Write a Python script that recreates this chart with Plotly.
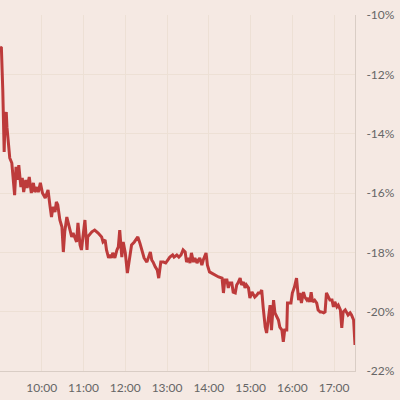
import pandas as pd
import plotly.graph_objects as go

# minutes after 09:00
minutes = [
    0, 2, 4, 6, 7, 9, 10, 12, 14, 17,
    19, 21, 23, 25, 27, 30, 32, 34, 37, 39,
    42, 45, 48, 50, 53, 55, 58, 61, 65, 69,
    72, 74, 76, 79, 81, 83, 86, 89, 91, 93,
    96, 98, 101, 103, 105, 108, 110, 112, 115, 117,
    120, 122, 125, 126, 132, 136, 141, 146, 148, 151,
    153, 156, 158, 160, 162, 165, 168, 170, 172, 175,
    177, 180, 183, 186, 189, 193, 198, 201, 204, 207,
    211, 213, 216, 218, 220, 223, 226, 228, 231, 235,
    238, 241, 244, 248, 250, 254, 257, 260, 263, 266,
    268, 271, 273, 275, 278, 280, 283, 285, 287, 290,
    292, 296, 298, 301, 304, 309, 314, 319, 321, 323,
    326, 328, 330, 333, 335, 338, 340, 342, 345, 347,
    350, 352, 354, 357, 359, 362, 364, 366, 369, 371,
    374, 376, 378, 381, 383, 386, 388, 390, 393, 395,
    398, 400, 402, 405, 407, 409, 412, 413, 416, 418,
    420, 423, 426, 429, 431, 433, 436, 438, 441, 443,
    445, 447, 449, 452, 455, 457, 460, 462, 465, 467,
    469, 472, 474, 477, 479, 481, 484, 486, 489, 491,
    493, 496, 498, 500, 503, 505, 508, 510,
]

# change, percent
values = [
    -11.08, -11.11, -12.53, -14.62, -13.71, -13.27, -13.78, -14.21, -14.82, -14.99,
    -15.56, -16.07, -15.12, -15.56, -15.06, -15.80, -15.49, -15.97, -15.56, -15.83,
    -15.46, -16.00, -15.66, -15.97, -15.80, -15.97, -15.66, -16.00, -16.17, -15.90,
    -16.47, -16.81, -16.47, -16.64, -16.30, -16.40, -16.91, -17.15, -17.99, -17.31,
    -16.81, -17.01, -17.31, -17.48, -17.35, -17.52, -17.65, -17.01, -17.75, -17.92,
    -17.15, -16.91, -17.92, -17.48, -17.31, -17.25, -17.35, -17.48, -17.65, -17.58,
    -17.92, -18.19, -18.09, -18.19, -18.02, -18.19, -17.92, -17.82, -17.25, -18.16,
    -17.65, -18.02, -18.70, -18.16, -17.75, -17.65, -17.48, -17.69, -17.92, -18.19,
    -18.33, -18.16, -17.99, -18.26, -18.33, -18.49, -18.60, -18.87, -18.33, -18.33,
    -18.36, -18.26, -18.16, -18.09, -18.16, -18.09, -18.16, -18.09, -17.92, -17.99,
    -18.33, -18.19, -18.36, -18.02, -18.33, -18.19, -18.36, -18.26, -18.19, -18.43,
    -18.26, -18.02, -18.43, -18.66, -18.70, -18.76, -18.83, -18.87, -19.37, -18.93,
    -18.93, -19.20, -19.03, -19.03, -19.34, -19.37, -19.10, -19.03, -18.87, -19.10,
    -19.00, -19.20, -19.10, -19.20, -19.54, -19.34, -19.44, -19.51, -19.44, -19.37,
    -19.37, -19.27, -19.84, -20.52, -20.72, -20.21, -19.78, -20.62, -19.61, -20.04,
    -20.18, -20.28, -20.52, -20.62, -21.02, -20.62, -20.62, -19.71, -19.71, -19.71,
    -19.37, -19.17, -18.87, -19.61, -19.37, -19.71, -19.34, -19.51, -19.61, -19.54,
    -19.67, -19.34, -19.67, -19.61, -19.71, -19.94, -20.01, -20.01, -20.04, -20.01,
    -19.37, -19.54, -19.61, -19.61, -19.84, -19.67, -19.84, -19.78, -19.94, -20.55,
    -20.01, -19.94, -20.04, -20.11, -20.04, -20.11, -20.28, -21.12,
]

y_ticks = [-10, -12, -14, -16, -18, -20, -22]
y_tick_labels = ["-10%", "-12%", "-14%", "-16%", "-18%", "-20%", "-22%"]
x_tick_labels = ["10:00", "11:00", "12:00", "13:00", "14:00", "15:00", "16:00", "17:00"]

base = pd.Timestamp("2020-03-09 09:00")
times = [base + pd.Timedelta(minutes=m) for m in minutes]
x_tick_vals = [pd.Timestamp("2020-03-09 " + t) for t in x_tick_labels]

BG = "#f5e9e3"
GRID = "#ede0d5"

fig = go.Figure()
fig.add_trace(go.Scatter(
    x=times, y=values, mode="lines",
    line=dict(color="#bd3b3b", width=3),
    hoverinfo="skip",
))

fig.update_layout(
    width=400, height=400,
    paper_bgcolor=BG, plot_bgcolor=BG,
    margin=dict(l=0, r=45, t=15, b=29),
    showlegend=False,
    font=dict(family="Lato", size=12, color="#666"),
)
fig.update_xaxes(
    range=[base, base + pd.Timedelta(minutes=510)],
    tickvals=x_tick_vals, ticktext=x_tick_labels,
    showgrid=True, gridcolor=GRID, gridwidth=1,
    showline=True, linecolor="#d9cdc5", linewidth=1,
    ticks="", ticklabelstandoff=6,
    zeroline=False,
)
fig.update_yaxes(
    side="right", range=[-22, -10],
    tickvals=y_ticks, ticktext=y_tick_labels,
    showgrid=True, gridcolor=GRID, gridwidth=1,
    showline=True, linecolor="#d9cdc5", linewidth=1,
    ticks="", ticklabelstandoff=8,
    zeroline=False,
)

fig.write_html(
    "out.html",
    config={"displayModeBar": False},
    post_script="document.body.style.margin='0';document.body.style.background='" + BG + "';",
)
